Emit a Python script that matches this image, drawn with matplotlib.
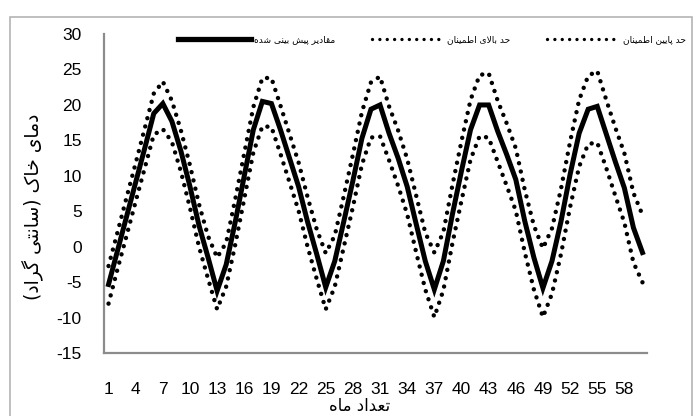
import matplotlib.pyplot as plt
from matplotlib.lines import Line2D
from matplotlib.patches import Rectangle

# months and the three series (soil temperature, deg C)
months = list(range(1, 61))
forecast = [-5.3, -0.5, 4.3, 9.1, 13.9, 18.8, 20.2, 17.7, 13.5, 8.5, 3.0, -1.5,
            -6.2, -2.5, 3.5, 10.0, 16.5, 20.5, 20.2, 16.5, 12.5, 8.5, 3.5, -1.0,
            -5.7, -2.0, 3.6, 9.3, 15.3, 19.4, 20.0, 16.0, 12.5, 8.5, 3.2, -2.0,
            -6.0, -2.0, 4.6, 10.7, 16.5, 20.0, 20.0, 16.3, 13.0, 9.5, 3.6, -1.5,
            -5.8, -2.0, 3.6, 10.2, 16.0, 19.4, 19.8, 15.9, 12.0, 8.3, 2.7, -0.8]
upper = [-2.7, 2.1, 7.0, 11.8, 16.7, 21.6, 23.3, 20.6, 16.4, 11.5, 6.0, 1.5,
         -1.5, 0.6, 6.7, 13.2, 19.7, 23.8, 23.8, 19.9, 15.9, 11.9, 7.0, 2.5,
         -0.9, 1.6, 7.2, 13.0, 19.0, 23.2, 24.0, 19.8, 16.4, 12.4, 7.2, 2.0,
         -0.8, 2.1, 8.7, 14.9, 20.7, 24.2, 24.5, 20.6, 17.4, 13.9, 8.0, 3.0,
         -0.2, 2.6, 8.2, 14.8, 20.7, 24.1, 24.8, 20.7, 16.8, 13.2, 7.6, 4.5]
lower = [-8.0, -3.1, 1.6, 6.4, 11.1, 15.8, 16.6, 14.8, 10.6, 5.5, 0.0, -4.5,
         -8.8, -5.6, 0.3, 6.8, 13.3, 17.0, 16.9, 13.1, 9.1, 5.1, 0.0, -4.5,
         -8.8, -5.6, 0.0, 5.6, 11.6, 15.4, 15.6, 12.2, 8.6, 4.6, -0.8, -6.0,
         -9.9, -6.1, 0.5, 6.5, 12.3, 15.6, 15.4, 12.0, 8.6, 5.1, -0.8, -6.0,
         -9.9, -6.6, -1.0, 5.6, 11.3, 14.5, 14.7, 11.1, 7.2, 3.4, -2.2, -5.0]

xticks = list(range(1, 61, 3))
yticks = list(range(-15, 31, 5))

lbl_forecast = "مقادیر پیش بینی شده"
lbl_upper = "حد بالای اطمینان"
lbl_lower = "حد پایین اطمینان"
lbl_x = "تعداد ماه"
lbl_y = "دمای خاک (سانتی گراد)"

# arabic presentation forms: isolated, final, initial, medial
FORMS = {
    'ا': ('\uFE8D', '\uFE8E', None, None),
    'د': ('\uFEA9', '\uFEAA', None, None),
    'ر': ('\uFEAD', '\uFEAE', None, None),
    'ب': ('\uFE8F', '\uFE90', '\uFE91', '\uFE92'),
    'پ': ('\uFB56', '\uFB57', '\uFB58', '\uFB59'),
    'ت': ('\uFE95', '\uFE96', '\uFE97', '\uFE98'),
    'ح': ('\uFEA1', '\uFEA2', '\uFEA3', '\uFEA4'),
    'خ': ('\uFEA5', '\uFEA6', '\uFEA7', '\uFEA8'),
    'س': ('\uFEB1', '\uFEB2', '\uFEB3', '\uFEB4'),
    'ش': ('\uFEB5', '\uFEB6', '\uFEB7', '\uFEB8'),
    'ط': ('\uFEC1', '\uFEC2', '\uFEC3', '\uFEC4'),
    'ع': ('\uFEC9', '\uFECA', '\uFECB', '\uFECC'),
    'ق': ('\uFED5', '\uFED6', '\uFED7', '\uFED8'),
    'ک': ('\uFB8E', '\uFB8F', '\uFB90', '\uFB91'),
    'گ': ('\uFB92', '\uFB93', '\uFB94', '\uFB95'),
    'ل': ('\uFEDD', '\uFEDE', '\uFEDF', '\uFEE0'),
    'م': ('\uFEE1', '\uFEE2', '\uFEE3', '\uFEE4'),
    'ن': ('\uFEE5', '\uFEE6', '\uFEE7', '\uFEE8'),
    'ه': ('\uFEE9', '\uFEEA', '\uFEEB', '\uFEEC'),
    'ی': ('\uFBFC', '\uFBFD', '\uFBFE', '\uFBFF'),
}


def fa(text):
    # join letters and lay them out right to left
    out = []
    i = 0
    while i < len(text):
        ch = text[i]
        prev = text[i - 1] if i > 0 else ''
        nxt = text[i + 1] if i + 1 < len(text) else ''
        if ch not in FORMS:
            out.append(ch)
            i += 1
            continue
        joins_prev = prev in FORMS and FORMS[prev][2] is not None
        if ch == 'ل' and nxt == 'ا':
            out.append('\uFEFC' if joins_prev else '\uFEFB')
            i += 2
            continue
        iso, fin, ini, med = FORMS[ch]
        joins_next = ini is not None and nxt in FORMS
        if joins_prev and joins_next:
            out.append(med)
        elif joins_prev:
            out.append(fin)
        elif joins_next:
            out.append(ini)
        else:
            out.append(iso)
        i += 1
    return ''.join(out)[::-1].translate(str.maketrans('()', ')('))


FA_FONT = ['DejaVu Sans']
plt.rcParams['font.family'] = ['Liberation Sans', 'DejaVu Sans']
plt.rcParams['axes.unicode_minus'] = False

fig = plt.figure(figsize=(6.94, 4.16), dpi=100)
ax = fig.add_axes([104 / 694, 1 - 353.3 / 416, 543 / 694, 319.3 / 416])

dots = (0, (0.01, 1.9))
ax.plot(months, forecast, color='black', lw=3.6, solid_joinstyle='miter')
ax.plot(months, upper, color='black', lw=3.2, linestyle=dots, dash_capstyle='round')
ax.plot(months, lower, color='black', lw=3.2, linestyle=dots, dash_capstyle='round')

ax.set_xlim(0.5, 60.5)
ax.set_ylim(-15, 30)
ax.set_xticks(xticks)
ax.set_xticklabels([str(t) for t in xticks])
ax.set_yticks(yticks)
ax.tick_params(axis='both', length=0, labelsize=12.5)
ax.tick_params(axis='x', pad=21)
ax.tick_params(axis='y', pad=16)
for side in ['top', 'right']:
    ax.spines[side].set_visible(False)
for side in ['left', 'bottom']:
    ax.spines[side].set_color('#8c8c8c')
    ax.spines[side].set_linewidth(1.6)

fig.text(360 / 694, 1 - 406 / 416, fa(lbl_x), ha='center', va='center',
         fontsize=12, family=FA_FONT)
fig.text(33 / 694, 1 - 207 / 416, fa(lbl_y), ha='center', va='center',
         rotation=90, fontsize=13.5, family=FA_FONT)

handles = [
    Line2D([], [], color='black', lw=3.8),
    Line2D([], [], color='black', lw=2.4, linestyle=(0, (0.01, 2.2)), dash_capstyle='round'),
    Line2D([], [], color='black', lw=2.4, linestyle=(0, (0.01, 2.2)), dash_capstyle='round'),
]
fig.legend(handles, [fa(lbl_forecast), fa(lbl_upper), fa(lbl_lower)],
           loc='center', bbox_to_anchor=(432 / 694, 1 - 40 / 416), ncol=3,
           frameon=False, prop={'family': FA_FONT, 'size': 6.5},
           handlelength=8.0, handletextpad=0.4, columnspacing=4.0)

# frame around the whole chart
fig.patches.append(Rectangle((9.5 / 694, -0.05), (692 - 9.5) / 694, (416 - 17) / 416 + 0.05,
                             transform=fig.transFigure, fill=False,
                             edgecolor='#b4b4b4', lw=1.2))

fig.savefig('out.png', dpi=100)
